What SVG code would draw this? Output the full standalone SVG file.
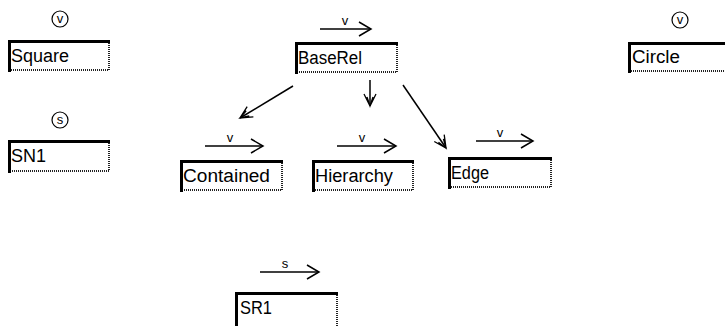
<svg xmlns="http://www.w3.org/2000/svg" width="725" height="326" viewBox="0 0 725 326">
<style>
.bg{fill:#fff}
.box{fill:#fff;stroke:none}
.tl{fill:none;stroke:#000;stroke-width:3}
.br{fill:none;stroke:#222;stroke-width:2;stroke-dasharray:1 1}
.lbl{font-family:"Liberation Sans",Arial,sans-serif;font-size:18px;fill:#000}
.tag{font-family:"Liberation Sans",Arial,sans-serif;font-size:13px;fill:#000;text-anchor:middle}
.ring{fill:none;stroke:#000;stroke-width:1.2}
.ln{fill:none;stroke:#000;stroke-width:1.5}
</style>
<defs>
<marker id="open" markerWidth="16" markerHeight="18" refX="13" refY="9" orient="auto" markerUnits="userSpaceOnUse">
<path d="M1,2 L13,9 L1,16" fill="none" stroke="#000" stroke-width="1.5"/>
</marker>
<marker id="dep" markerWidth="16" markerHeight="16" refX="13" refY="8" orient="auto" markerUnits="userSpaceOnUse">
<path d="M1,2 L13,8 L1,14 M4,5 L13,8 L4,11" fill="none" stroke="#000" stroke-width="1.3"/>
</marker>
</defs>
<rect class="bg" x="0" y="0" width="725" height="326"/>

<g id="square">
<circle class="ring" cx="60" cy="19" r="8"/>
<text class="tag" x="60" y="23">v</text>
<rect class="box" x="8" y="40" width="102" height="31"/>
<path class="br" d="M109,41 V70 H9"/>
<path class="tl" d="M9.5,72 V41.5 H110"/>
<text class="lbl" x="11" y="62" textLength="58" lengthAdjust="spacingAndGlyphs">Square</text>
</g>

<g id="sn1">
<circle class="ring" cx="60" cy="120" r="8"/>
<text class="tag" x="60" y="124">s</text>
<rect class="box" x="8" y="140" width="102" height="32"/>
<path class="br" d="M109,141 V171 H9"/>
<path class="tl" d="M9.5,173 V141.5 H110"/>
<text class="lbl" x="11" y="162" textLength="35" lengthAdjust="spacingAndGlyphs">SN1</text>
</g>

<g id="baserel">
<path class="ln" d="M320,29 H371" marker-end="url(#open)"/>
<text class="tag" x="345" y="25">v</text>
<rect class="box" x="295" y="42" width="103" height="31"/>
<path class="br" d="M397,43 V72 H296"/>
<path class="tl" d="M296.5,74 V43.5 H398"/>
<text class="lbl" x="298" y="64" textLength="64" lengthAdjust="spacingAndGlyphs">BaseRel</text>
</g>

<g id="circle">
<circle class="ring" cx="680" cy="20" r="8"/>
<text class="tag" x="680" y="24">v</text>
<rect class="box" x="628" y="42" width="97" height="30"/>
<path class="br" d="M724,71 H629"/>
<path class="tl" d="M629.5,73 V43.5 H725"/>
<text class="lbl" x="632" y="63" textLength="48" lengthAdjust="spacingAndGlyphs">Circle</text>
</g>

<g id="contained">
<path class="ln" d="M205,146 H263" marker-end="url(#open)"/>
<text class="tag" x="230" y="142">v</text>
<rect class="box" x="180" y="160" width="103" height="31"/>
<path class="br" d="M282,161 V190 H181"/>
<path class="tl" d="M181.5,192 V161.5 H283"/>
<text class="lbl" x="183" y="182" textLength="87" lengthAdjust="spacingAndGlyphs">Contained</text>
</g>

<g id="hierarchy">
<path class="ln" d="M337,146 H396" marker-end="url(#open)"/>
<text class="tag" x="362" y="142">v</text>
<rect class="box" x="312" y="160" width="102" height="31"/>
<path class="br" d="M413,161 V190 H313"/>
<path class="tl" d="M313.5,192 V161.5 H414"/>
<text class="lbl" x="315" y="182" textLength="78" lengthAdjust="spacingAndGlyphs">Hierarchy</text>
</g>

<g id="edge">
<path class="ln" d="M476,141 H533" marker-end="url(#open)"/>
<text class="tag" x="500" y="137">v</text>
<rect class="box" x="448" y="157" width="104" height="31"/>
<path class="br" d="M551,158 V187 H449"/>
<path class="tl" d="M449.5,189 V158.5 H552"/>
<text class="lbl" x="451" y="179" textLength="38" lengthAdjust="spacingAndGlyphs">Edge</text>
</g>

<g id="sr1">
<path class="ln" d="M260,272 H319" marker-end="url(#open)"/>
<text class="tag" x="285" y="268">s</text>
<rect class="box" x="235" y="292" width="103" height="34"/>
<path class="br" d="M337,293 V326"/>
<path class="tl" d="M236.5,326 V293.5 H338"/>
<text class="lbl" x="240" y="314" textLength="32" lengthAdjust="spacingAndGlyphs">SR1</text>
</g>

<g id="connectors">
<path class="ln" d="M293,86 L240,118" marker-end="url(#dep)"/>
<path class="ln" d="M370,80 L370,106" marker-end="url(#dep)"/>
<path class="ln" d="M403,85 L446,148" marker-end="url(#dep)"/>
</g>
</svg>
